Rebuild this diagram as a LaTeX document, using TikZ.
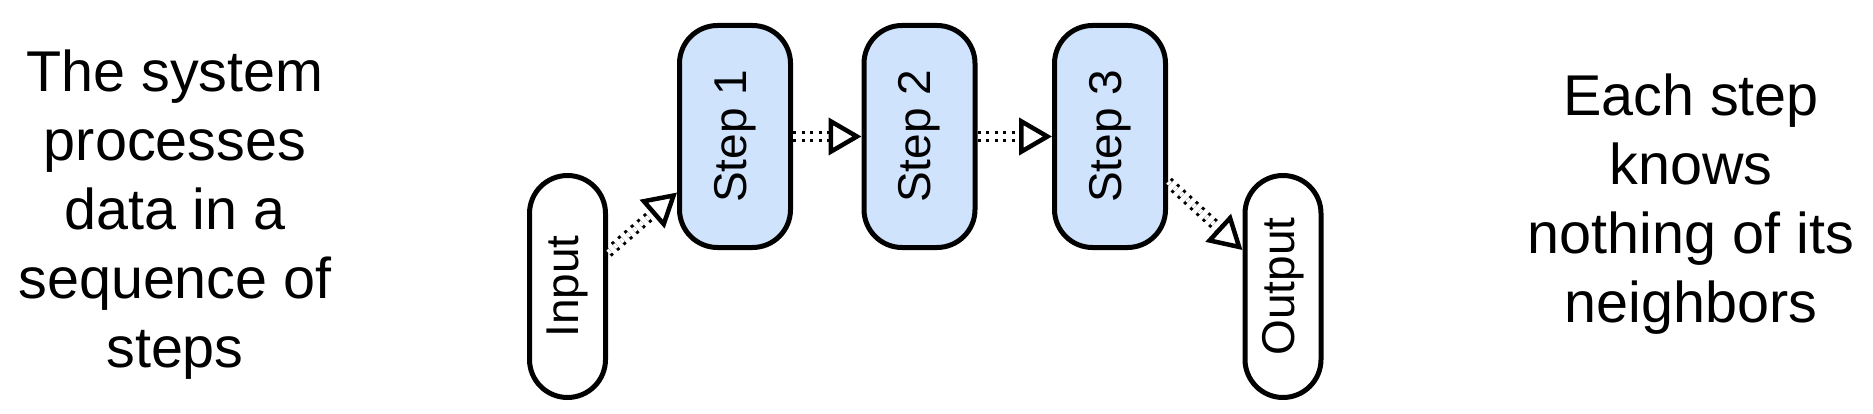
\documentclass[tikz,border=0pt]{standalone}
\usepackage{fontspec}
\setmainfont{Liberation Sans}
\usepackage{graphicx}
\usetikzlibrary{arrows.meta}
\definecolor{stepblue}{RGB}{207,227,253}
\begin{document}
\begin{tikzpicture}[x=1pt,y=-1pt,
  box/.style={draw=black, line width=5pt, rounded corners=38pt, inner sep=0pt, minimum height=222pt, font=\fontsize{46pt}{55pt}\selectfont},
  stepbox/.style={box, fill=stepblue, minimum width=111pt},
  endbox/.style={box, fill=white, minimum width=76pt},
  note/.style={align=center, inner sep=0pt, font=\fontsize{57.5pt}{69pt}\selectfont},
  flow/.style={line width=4pt, dash pattern=on 0pt off 4000pt,
    -{Triangle[open, length=33pt, width=37pt, line width=4.5pt]},
    preaction={draw, -, double, double distance=5pt, line width=3pt,
      dash pattern=on 3pt off 5.5pt, shorten >=30pt}}
]
\fill[white] (0,0) rectangle (1873,414);
\useasboundingbox (0,0) rectangle (1873,414);
\node[note] (left) at (175,215) {The system\\processes\\data in a\\sequence of\\steps};
\node[note] (right) at (1691,204) {Each step\\knows\\nothing of its\\neighbors};
\node[endbox] (input) at (567.5,286.5) {\rotatebox{90}{Input}};
\node[stepbox] (step1) at (735,136.5) {\rotatebox{90}{Step 1}};
\node[stepbox] (step2) at (919.5,136.5) {\rotatebox{90}{Step 2}};
\node[stepbox] (step3) at (1110,136.5) {\rotatebox{90}{Step 3}};
\node[endbox] (output) at (1283,286.5) {\rotatebox{90}{Output}};
\draw[flow] (input.40) -- (step1.224);
\draw[flow] (step1.east) -- (step2.west);
\draw[flow] (step2.east) -- (step3.west);
\draw[flow] (step3.-38) -- (output.138);
\end{tikzpicture}
\end{document}
